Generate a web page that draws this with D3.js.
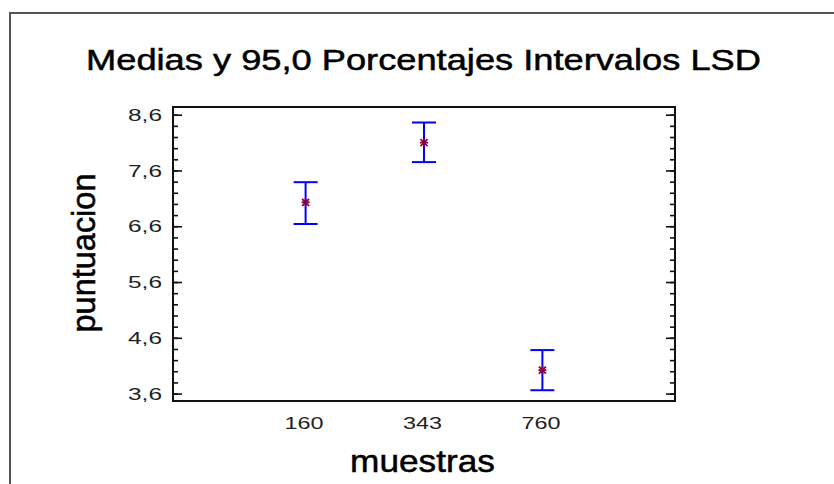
<!DOCTYPE html>
<html>
<head>
<meta charset="utf-8">
<script src="https://cdn.jsdelivr.net/npm/d3@7"></script>
<style>
  html, body { margin: 0; padding: 0; background: #fff; }
  svg { display: block; }
  text { font-family: "Liberation Sans", Arial, sans-serif; }
</style>
</head>
<body>
<svg id="chart" width="834" height="484"></svg>
<script>
// ---- data ----
const categories = ["160", "343", "760"];
const means = [7.03, 8.10, 4.02];
const lower = [6.64, 7.75, 3.66];
const upper = [7.39, 8.46, 4.38];
const yMajorTicks = [3.6, 4.6, 5.6, 6.6, 7.6, 8.6];
const title = "Medias y 95,0 Porcentajes Intervalos LSD";
const xTitle = "muestras";
const yTitle = "puntuacion";

const svg = d3.select("#chart");
const plot = { left: 173, right: 675, top: 107, bottom: 401 };

// outer frame
svg.append("rect")
  .attr("x", 10).attr("y", 13).attr("width", 840).attr("height", 490)
  .attr("fill", "none").attr("stroke", "#555").attr("stroke-width", 2);

const x = d3.scalePoint().domain(categories).range([plot.left, plot.right]).padding(1.12);
const y = d3.scaleLinear().domain([3.467, 8.738]).range([plot.bottom, plot.top]);

const fmt = v => d3.format(".1f")(v).replace(".", ",");
const minorTicks = d3.range(36, 87, 2).map(v => v / 10);

// left axis
const gl = svg.append("g").attr("transform", `translate(${plot.left},0)`);
gl.call(d3.axisRight(y).tickValues(minorTicks).tickSize(5).tickFormat(""));
gl.append("g").call(d3.axisRight(y).tickValues(yMajorTicks).tickSize(9).tickFormat(""));
// right axis
const gr = svg.append("g").attr("transform", `translate(${plot.right},0)`);
gr.call(d3.axisLeft(y).tickValues(minorTicks).tickSize(5).tickFormat(""));
gr.append("g").call(d3.axisLeft(y).tickValues(yMajorTicks).tickSize(9).tickFormat(""));
svg.selectAll(".domain").remove();
svg.selectAll(".tick line").attr("stroke", "#111").attr("stroke-width", 1.6);

// y tick labels
svg.append("g").selectAll("text").data(yMajorTicks).join("text")
  .attr("x", 162).attr("y", d => y(d)).attr("dy", "0.36em")
  .attr("text-anchor", "end").attr("font-size", 17).attr("fill", "#222")
  .attr("textLength", 34).attr("lengthAdjust", "spacingAndGlyphs")
  .text(fmt);

// x tick labels
svg.append("g").selectAll("text").data(categories).join("text")
  .attr("x", d => x(d) - 1.5).attr("y", 429)
  .attr("text-anchor", "middle").attr("font-size", 17).attr("fill", "#222")
  .attr("textLength", 39).attr("lengthAdjust", "spacingAndGlyphs")
  .text(d => d);

// plot box
svg.append("rect")
  .attr("x", plot.left).attr("y", plot.top)
  .attr("width", plot.right - plot.left).attr("height", plot.bottom - plot.top)
  .attr("fill", "none").attr("stroke", "#111").attr("stroke-width", 2);

// error bars
const data = categories.map((c, i) => ({ c, m: means[i], lo: lower[i], hi: upper[i] }));
const eb = svg.append("g").attr("stroke", "#0000ff").attr("stroke-width", 2);
eb.selectAll("line.v").data(data).join("line").attr("class", "v")
  .attr("x1", d => x(d.c)).attr("x2", d => x(d.c))
  .attr("y1", d => y(d.lo)).attr("y2", d => y(d.hi));
eb.selectAll("line.t").data(data).join("line").attr("class", "t")
  .attr("x1", d => x(d.c) - 12).attr("x2", d => x(d.c) + 12)
  .attr("y1", d => y(d.hi)).attr("y2", d => y(d.hi));
eb.selectAll("line.b").data(data).join("line").attr("class", "b")
  .attr("x1", d => x(d.c) - 12).attr("x2", d => x(d.c) + 12)
  .attr("y1", d => y(d.lo)).attr("y2", d => y(d.lo));

// asterisk markers
const star = svg.append("g").attr("stroke", "#8a0045").attr("stroke-width", 1.8);
const arms = [[-4, 0, 4, 0], [0, -4, 0, 4], [-3.5, -3.5, 3.5, 3.5], [-3.5, 3.5, 3.5, -3.5]];
data.forEach(d => {
  const cx = x(d.c), cy = y(d.m);
  arms.forEach(a => {
    star.append("line")
      .attr("x1", cx + a[0]).attr("y1", cy + a[1])
      .attr("x2", cx + a[2]).attr("y2", cy + a[3]);
  });
});

// stretched text helper (reference glyphs are horizontally widened)
function stretched(txt, cx, cy, size, targetLen, rotate) {
  const g = svg.append("g");
  const t = g.append("text").attr("text-anchor", "middle")
    .attr("font-size", size).attr("fill", "#000")
    .attr("stroke", "#000").attr("stroke-width", 0.5)
    .text(txt);
  const len = t.node().getComputedTextLength();
  if (rotate) {
    g.attr("transform", `translate(${cx},${cy}) rotate(-90) scale(${targetLen / len},1.08)`);
  } else {
    g.attr("transform", `translate(${cx},${cy}) scale(${targetLen / len},1)`);
  }
  return t;
}

stretched(title, 423.5, 70, 30, 675, false);
stretched(xTitle, 422.5, 472, 32, 145, false);
stretched(yTitle, 95, 253, 30, 159, true);
</script>
</body>
</html>
